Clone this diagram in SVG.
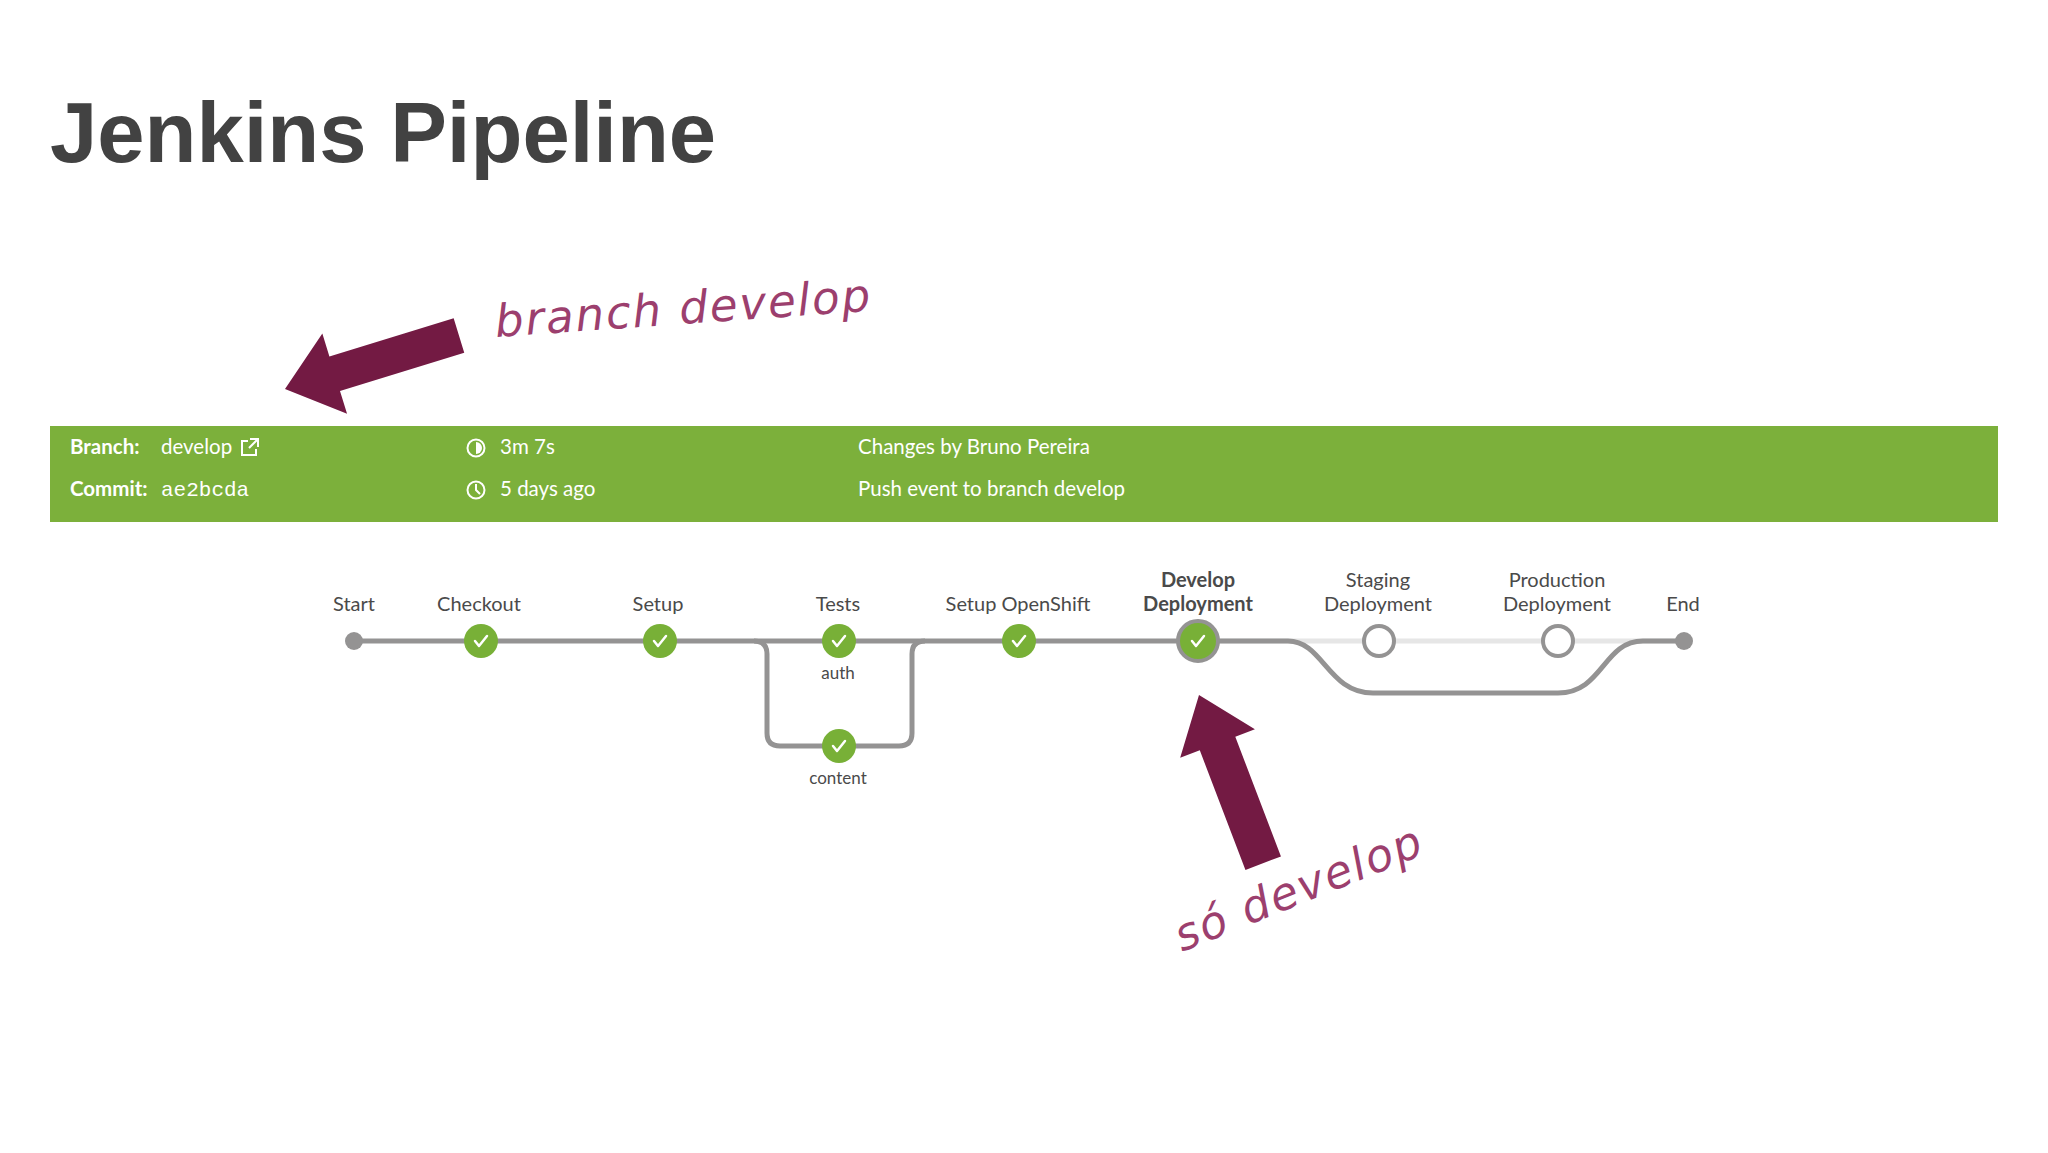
<svg xmlns="http://www.w3.org/2000/svg" width="2048" height="1153" viewBox="0 0 2048 1153">
<style>
.lbl{font-family:Lato,"Open Sans",sans-serif;font-size:20px;fill:#4a4a4a;text-anchor:middle}
.sm{font-family:Lato,"Open Sans",sans-serif;font-size:17px;fill:#4a4a4a;text-anchor:middle}
.bar{font-family:Lato,"Open Sans",sans-serif;font-size:20.5px;fill:#fff}
.hand{font-family:"DejaVu Sans",sans-serif;font-style:italic;font-size:45px;fill:#9c3f6e;letter-spacing:2px}
.ok{fill:#78b037}
.chk{fill:none;stroke:#fff;stroke-width:2.5;stroke-linecap:round;stroke-linejoin:round}
.arrow{fill:#731a43}
</style>
<defs>
<g id="check"><polyline class="chk" points="-6,0 -2,5 6,-5"/></g>
</defs>
<rect width="2048" height="1153" fill="#fff"/>
<text x="50" y="162" font-family="Liberation Sans,Arial,sans-serif" font-weight="bold" font-size="85" fill="#424242">Jenkins Pipeline</text>
<g id="header">
<rect x="50" y="426" width="1948" height="96" fill="#7cb03b"/>
<text class="bar" x="70" y="454" font-weight="bold">Branch:</text>
<text class="bar" x="161" y="454">develop</text>
<g fill="none" stroke="#fff" stroke-width="2"><path d="M248 441h-6v14h14v-6"/><path d="M250 439h8v8M258 439l-9 9"/></g>
<text class="bar" x="70" y="496" font-weight="bold">Commit:</text>
<text class="bar" x="161" y="496" style="font-family:'Liberation Mono',monospace;font-size:21px">ae2bcda</text>
<circle cx="476" cy="448" r="8.5" fill="none" stroke="#fff" stroke-width="2"/>
<path d="M476 442a6 6 0 0 1 0 12z" fill="#fff"/>
<text class="bar" x="500" y="454">3m 7s</text>
<circle cx="476" cy="490" r="8.5" fill="none" stroke="#fff" stroke-width="2"/>
<path d="M476 484v6l4 4" fill="none" stroke="#fff" stroke-width="2"/>
<text class="bar" x="500" y="496">5 days ago</text>
<text class="bar" x="858" y="454">Changes by Bruno Pereira</text>
<text class="bar" x="858" y="496">Push event to branch develop</text>
</g>
<g id="connectors" fill="none" stroke-width="5">
<path d="M1198 641H1683" stroke="#e6e6e6"/>
<path d="M354 641H1198" stroke="#949393"/>
<path d="M754 641q13 0 13 13v79q0 13 13 13h119q13 0 13-13v-79q0-13 13-13" stroke="#949393"/>
<path d="M1198 641h90c35 0 40 52 85 52h185c45 0 45-52 85-52h40" stroke="#949393"/>
</g>
<g id="start"><circle cx="354" cy="641" r="9" fill="#949393"/><text class="lbl" x="354" y="611">Start</text></g>
<g id="checkout"><circle class="ok" cx="481" cy="641" r="17"/><use href="#check" x="481" y="641"/><text class="lbl" x="479" y="611">Checkout</text></g>
<g id="setup"><circle class="ok" cx="660" cy="641" r="17"/><use href="#check" x="660" y="641"/><text class="lbl" x="658" y="611">Setup</text></g>
<g id="auth"><circle class="ok" cx="839" cy="641" r="17"/><use href="#check" x="839" y="641"/><text class="lbl" x="838" y="611">Tests</text><text class="sm" x="838" y="679">auth</text></g>
<g id="content"><circle class="ok" cx="839" cy="746" r="17"/><use href="#check" x="839" y="746"/><text class="sm" x="838" y="784">content</text></g>
<g id="openshift"><circle class="ok" cx="1019" cy="641" r="17"/><use href="#check" x="1019" y="641"/><text class="lbl" x="1018" y="611">Setup OpenShift</text></g>
<g id="develop"><circle class="ok" cx="1198" cy="641" r="20" stroke="#949393" stroke-width="4"/><use href="#check" x="1198" y="641"/><text class="lbl" x="1198" y="587" font-weight="bold">Develop</text><text class="lbl" x="1198" y="611" font-weight="bold">Deployment</text></g>
<g id="staging"><circle cx="1379" cy="641" r="15" fill="#fff" stroke="#949393" stroke-width="4"/><text class="lbl" x="1378" y="587">Staging</text><text class="lbl" x="1378" y="611">Deployment</text></g>
<g id="production"><circle cx="1558" cy="641" r="15" fill="#fff" stroke="#949393" stroke-width="4"/><text class="lbl" x="1557" y="587">Production</text><text class="lbl" x="1557" y="611">Deployment</text></g>
<g id="end"><circle cx="1684" cy="641" r="9" fill="#949393"/><text class="lbl" x="1683" y="611">End</text></g>
<g id="annotations">
<polygon class="arrow" transform="translate(285,389) rotate(162.9)" points="-182,-18 -52,-18 -52,-42 0,0 -52,42 -52,18 -182,18"/>
<polygon class="arrow" transform="translate(1199,695) rotate(-110.9)" points="-180,-19 -52,-19 -52,-40 0,0 -52,40 -52,19 -180,19"/>
<text class="hand" x="496" y="337" transform="rotate(-4 496 337)">branch develop</text>
<text class="hand" x="1182" y="952" transform="rotate(-22 1182 952)">só develop</text>
</g>
</svg>
